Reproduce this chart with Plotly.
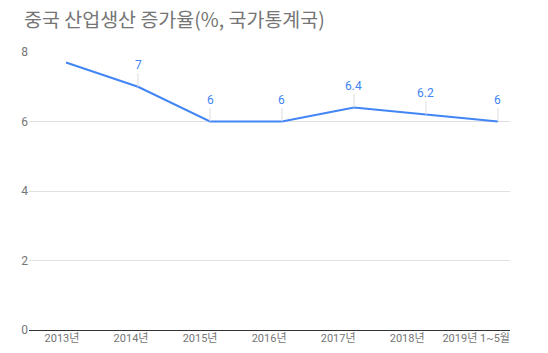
import plotly.graph_objects as go

categories = ["2013년", "2014년", "2015년", "2016년", "2017년", "2018년", "2019년 1~5월"]
values = [7.7, 7.0, 6.0, 6.0, 6.4, 6.2, 6.0]
value_labels = [None, "7", "6", "6", "6.4", "6.2", "6"]
y_ticks = [0, 2, 4, 6, 8]

BLUE = "#4285f4"
GREY = "#757575"
FONT = "Roboto, 'Noto Sans CJK KR', sans-serif"

idx = list(range(len(categories)))

fig = go.Figure()
fig.add_trace(go.Scatter(
    x=idx, y=values, mode="lines",
    line=dict(color=BLUE, width=2),
    hoverinfo="skip", showlegend=False, xaxis="x", yaxis="y",
))
# invisible trace carrying the category labels axis
fig.add_trace(go.Scatter(
    x=idx, y=values, mode="lines", line=dict(width=0, color="rgba(0,0,0,0)"),
    hoverinfo="skip", showlegend=False, xaxis="x2", yaxis="y",
))

for i, (v, lab) in enumerate(zip(values, value_labels)):
    if lab is None:
        continue
    fig.add_annotation(
        x=i, y=v, xref="x", yref="y", text=lab,
        showarrow=True, arrowhead=0, arrowwidth=1, arrowcolor="#dddddd",
        ax=0, ay=-22, font=dict(family=FONT, size=12, color=BLUE),
    )

fig.update_layout(
    width=548, height=353,
    margin=dict(l=29, r=38, t=52, b=23, autoexpand=False),
    paper_bgcolor="white", plot_bgcolor="white",
    title=dict(
        text="중국 산업생산 증가율(%, 국가통계국)",
        x=24 / 548, xanchor="left", y=1 - 20 / 353, yanchor="middle",
        font=dict(family="'Noto Sans CJK KR', sans-serif", size=19.5, color=GREY),
    ),
    xaxis=dict(
        range=[-0.514, 6.167], showticklabels=False, showgrid=False,
        zeroline=False, showline=False, fixedrange=True, automargin=False,
    ),
    xaxis2=dict(
        overlaying="x", side="bottom", anchor="y",
        range=[-0.478, 6.49], tickmode="array", tickvals=idx, ticktext=categories,
        showgrid=False, zeroline=False, showline=False, ticks="", automargin=False,
        tickfont=dict(family=FONT, size=11, color=GREY),
    ),
    yaxis=dict(
        range=[0, 8], tickmode="array", tickvals=y_ticks,
        showgrid=True, gridcolor="#e0e0e0", gridwidth=1,
        zeroline=True, zerolinecolor="#333333", zerolinewidth=1,
        showline=False, ticks="", automargin=False,
        tickfont=dict(family=FONT, size=12, color=GREY),
    ),
)

fig.write_html("out.html")
